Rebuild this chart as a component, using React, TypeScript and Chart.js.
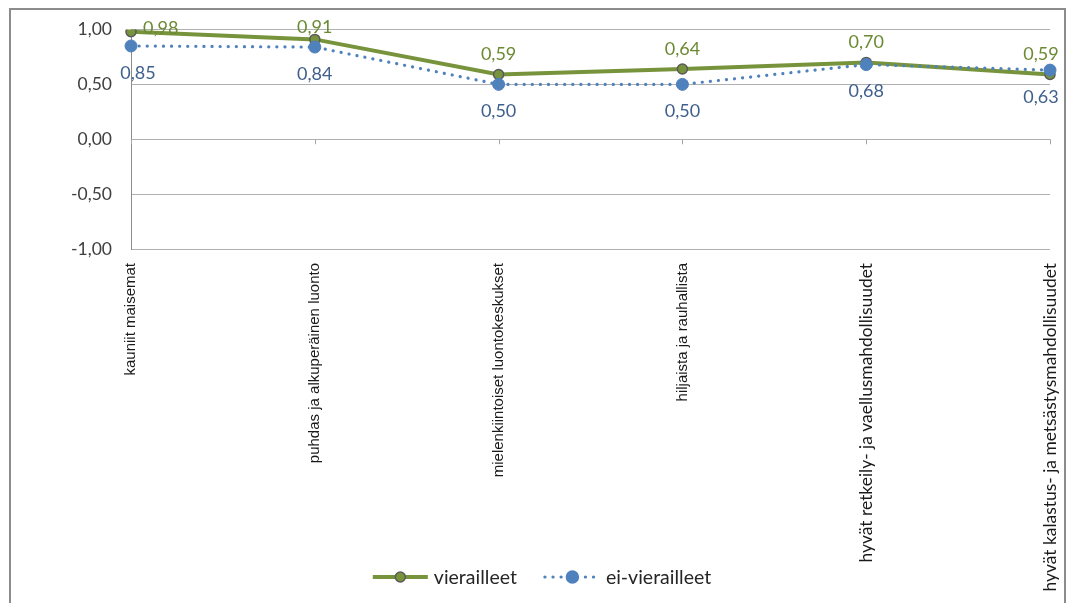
import React, { useEffect, useRef } from "react";
import { Chart, registerables } from "chart.js";

Chart.register(...registerables);

const categories = [
  "kauniit maisemat",
  "puhdas ja alkuperäinen luonto",
  "mielenkiintoiset luontokeskukset",
  "hiljaista ja rauhallista",
  "hyvät retkeily- ja vaellusmahdollisuudet",
  "hyvät kalastus- ja metsästysmahdollisuudet",
];

const visitedLabel = "vierailleet";
const visited = [0.98, 0.91, 0.59, 0.64, 0.7, 0.59];

const notVisitedLabel = "ei-vierailleet";
const notVisited = [0.85, 0.84, 0.5, 0.5, 0.68, 0.63];

const yTicks = [-1, -0.5, 0, 0.5, 1];

const GREEN = "#77933C";
const GREEN_TEXT = "#6B8A34";
const BLUE = "#4F81BD";
const BLUE_TEXT = "#3F5F8C";
const NUM_FONT = "Lato, 'Open Sans', sans-serif";

const fmt = (v: number) => v.toFixed(2).replace(".", ",");

// small tick marks on the zero line, one per category
const zeroTicks = {
  id: "zeroTicks",
  beforeDatasetsDraw(chart: any) {
    const { ctx, scales } = chart;
    const x = scales.x;
    const y = scales.y;
    const y0 = y.getPixelForValue(0);
    ctx.save();
    ctx.strokeStyle = "#a6a6a6";
    ctx.lineWidth = 1;
    categories.forEach((_, i) => {
      const px = Math.round(x.getPixelForValue(i)) + 0.5;
      ctx.beginPath();
      ctx.moveTo(px, y0);
      ctx.lineTo(px, y0 + 5);
      ctx.stroke();
    });
    ctx.restore();
  },
};

// value labels: green above its point, blue below its point
const valueLabels = {
  id: "valueLabels",
  afterDatasetsDraw(chart: any) {
    const { ctx, chartArea } = chart;
    ctx.save();
    ctx.font = `18px ${NUM_FONT}`;
    chart.data.datasets.forEach((ds: any, di: number) => {
      const meta = chart.getDatasetMeta(di);
      const above = ds.label === visitedLabel;
      ctx.fillStyle = above ? GREEN_TEXT : BLUE_TEXT;
      meta.data.forEach((pt: any, i: number) => {
        const text = fmt(ds.data[i]);
        let lx = Math.min(Math.max(pt.x, chartArea.left + 7), chartArea.right - 9);
        let ly: number;
        ctx.textAlign = "center";
        ctx.textBaseline = "middle";
        if (above) {
          ly = Math.max(pt.y - 20, chartArea.top - 2);
          if (pt.y - ly < 10) {
            ctx.textAlign = "left";
            lx = pt.x + 12;
            ly = pt.y - 4;
          }
        } else {
          ly = pt.y + 27;
        }
        ctx.fillText(text, lx, ly);
      });
    });
    ctx.restore();
  },
};

// legend with a line sample and a marker for each series
const lineLegend = {
  id: "lineLegend",
  afterDraw(chart: any) {
    const { ctx } = chart;
    ctx.save();
    ctx.font = `19.5px ${NUM_FONT}`;
    const items = [
      { text: visitedLabel, color: GREEN, dash: [] as number[], width: 4, r: 5, border: "#5a5a5a" },
      { text: notVisitedLabel, color: BLUE, dash: [0.1, 8], width: 3.2, r: 6, border: BLUE },
    ];
    const sample = 55;
    const gap = 6;
    const itemGap = 28;
    const widths = items.map((it) => sample + gap + ctx.measureText(it.text).width);
    const total = widths.reduce((a, b) => a + b, 0) + itemGap;
    let x = chart.width / 2 + 8 - total / 2;
    const y = 577;
    items.forEach((it, i) => {
      ctx.beginPath();
      ctx.setLineDash(it.dash);
      ctx.lineCap = it.dash.length ? "round" : "butt";
      ctx.strokeStyle = it.color;
      ctx.lineWidth = it.width;
      ctx.moveTo(x, y);
      ctx.lineTo(x + sample, y);
      ctx.stroke();
      ctx.setLineDash([]);
      ctx.beginPath();
      ctx.arc(x + sample / 2, y, it.r, 0, Math.PI * 2);
      ctx.fillStyle = it.color;
      ctx.fill();
      ctx.lineWidth = 1.5;
      ctx.strokeStyle = it.border;
      ctx.stroke();
      ctx.fillStyle = "#262626";
      ctx.textAlign = "left";
      ctx.textBaseline = "middle";
      ctx.fillText(it.text, x + sample + gap, y + 1);
      x += widths[i] + itemGap;
    });
    ctx.restore();
  },
};

export default function App() {
  const canvasRef = useRef<HTMLCanvasElement | null>(null);

  useEffect(() => {
    if (!canvasRef.current) return;
    const chart = new Chart(canvasRef.current, {
      type: "line",
      data: {
        labels: categories,
        datasets: [
          {
            label: visitedLabel,
            data: visited,
            borderColor: GREEN,
            backgroundColor: GREEN,
            borderWidth: 4,
            pointRadius: 5,
            pointBackgroundColor: GREEN,
            pointBorderColor: "#5a5a5a",
            pointBorderWidth: 1.5,
            tension: 0,
            order: 1,
          },
          {
            label: notVisitedLabel,
            data: notVisited,
            borderColor: BLUE,
            backgroundColor: BLUE,
            borderWidth: 3.2,
            borderDash: [0.1, 8],
            borderCapStyle: "round",
            pointRadius: 6,
            pointBackgroundColor: BLUE,
            pointBorderColor: BLUE,
            pointBorderWidth: 1,
            tension: 0,
            order: 0,
          },
        ],
      },
      options: {
        animation: false,
        responsive: false,
        maintainAspectRatio: false,
        layout: { padding: { top: 29, right: 18, left: 0, bottom: 0 } },
        plugins: {
          legend: { display: false },
          tooltip: { enabled: false },
        },
        scales: {
          x: {
            type: "category",
            offset: false,
            grid: { display: false },
            border: { display: false },
            ticks: {
              autoSkip: false,
              maxRotation: 90,
              minRotation: 90,
              padding: 6,
              color: "#1a1a1a",
              font: (c: any) =>
                c.index >= 4
                  ? { family: NUM_FONT, size: 17.4 }
                  : { family: "'Liberation Sans', Arial, sans-serif", size: 15 },
            },
            afterFit: (s: any) => {
              s.height = 354;
              s.paddingLeft = 0;
              s.paddingRight = 0;
            },
          },
          y: {
            min: -1,
            max: 1,
            afterBuildTicks: (s: any) => {
              s.ticks = yTicks.map((v) => ({ value: v }));
            },
            grid: { color: "#b0b0b0", lineWidth: 1, drawTicks: false },
            border: { display: true, color: "#8c8c8c", width: 1 },
            ticks: {
              padding: 19,
              color: "#404040",
              font: { family: NUM_FONT, size: 17.5 },
              callback: (v: any) => fmt(Number(v)),
            },
            afterFit: (s: any) => {
              s.width = 131;
            },
          },
        },
      },
      plugins: [zeroTicks, valueLabels, lineLegend],
    });
    return () => chart.destroy();
  }, []);

  return (
    <div style={{ position: "fixed", left: 0, top: 0, width: 1068, height: 603, background: "#fff", overflow: "hidden" }}>
      <canvas ref={canvasRef} width={1068} height={603} style={{ position: "absolute", left: 0, top: 0 }} />
      <div
        style={{
          position: "absolute",
          left: 9,
          top: 8,
          width: 1057,
          height: 700,
          border: "2px solid #8c8c8c",
          boxSizing: "border-box",
          pointerEvents: "none",
        }}
      />
    </div>
  );
}
